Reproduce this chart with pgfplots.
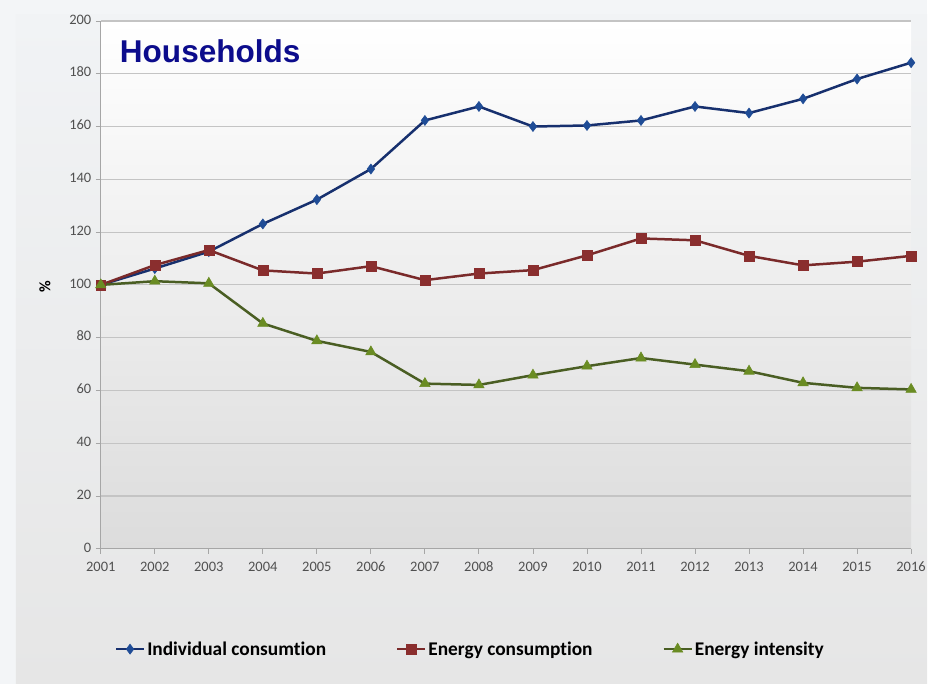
\documentclass[border=0pt]{standalone}
\usepackage{fontspec}
\setmainfont{Carlito}[Ligatures=NoCommon]
\newfontfamily\arialfont{Liberation Sans}
\usepackage{pgfplots}
\pgfplotsset{compat=1.18}
\definecolor{bgouter}{HTML}{F3F5F7}
\definecolor{bgtop}{HTML}{F1F3F5}
\definecolor{bgbot}{HTML}{E6E6E6}
\definecolor{plotbot}{HTML}{DCDCDC}
\definecolor{titleblue}{HTML}{0C0C8C}
\definecolor{blueline}{HTML}{17306E}
\definecolor{bluemark}{HTML}{1F4C96}
\definecolor{redline}{HTML}{7A2A2A}
\definecolor{redmark}{HTML}{8A2E2E}
\definecolor{greenline}{HTML}{4A5E23}
\definecolor{greenmark}{HTML}{6A8C23}
\definecolor{ticktext}{HTML}{505050}
\definecolor{gridc}{HTML}{C4C4C4}
\begin{document}
\begin{tikzpicture}[x=1pt,y=1pt]
\fill[bgouter] (0,0) rectangle (929,685);
\shade[top color=bgtop, bottom color=bgbot] (16,0) rectangle (929,670);
\begin{axis}[
  at={(101pt,135pt)}, anchor=south west,
  scale only axis, width=812pt, height=529pt,
  xmin=2001, xmax=2016, ymin=0, ymax=200,
  xtick={2001,2002,...,2016}, ytick={0,20,...,200},
  /pgf/number format/1000 sep={},
  /pgf/number format/assume math mode=true,
  typeset ticklabels with strut,
  axis lines*=left,
  axis line style={draw=gray!70, line width=0.8pt, -},
  tick style={draw=gray!70, line width=0.8pt},
  tick align=outside, major tick length=5pt,
  ymajorgrids, grid style={draw=gridc, line width=1.2pt},
  axis background/.style={shade, top color=white, bottom color=plotbot},
  ticklabel style={font=\fontsize{14.5}{16}\selectfont, text=ticktext},
  xticklabel style={yshift=-3pt},
  yticklabel style={xshift=-1pt},
  ylabel={\textbf{\%}},
  ylabel style={at={(axis description cs:-0.069,0.497)}, anchor=center, font=\fontsize{16}{17}\selectfont, rotate=0},
  clip=false,
  legend columns=3,
  legend cell align=left,
  legend style={draw=none, fill=none, at={(axis description cs:0.456,-0.19)}, anchor=center,
    font=\bfseries\fontsize{19.4}{21}\selectfont,
    /tikz/every even column/.append style={column sep=68pt}},
  legend image code/.code={\draw[mark repeat=2,mark phase=2] plot coordinates {(0pt,0pt) (14pt,0pt) (28pt,0pt)};},
]
\addplot[blueline, line width=2.5pt, mark=diamond*, mark size=5pt, mark options={fill=bluemark, draw=bluemark, line width=0.6pt}]
 coordinates {(2001,100) (2002,106.2) (2003,112.6) (2004,123.1) (2005,132.3) (2006,143.9) (2007,162.3) (2008,167.6) (2009,160.0) (2010,160.4) (2011,162.3) (2012,167.6) (2013,165.1) (2014,170.5) (2015,178.0) (2016,184.2)};
\addlegendentry{Individual consumtion}
\addplot[redline, line width=2.5pt, mark=square*, mark size=5pt, mark options={fill=redmark, draw=redmark, line width=0.6pt}]
 coordinates {(2001,100) (2002,107.5) (2003,113.2) (2004,105.5) (2005,104.3) (2006,107.1) (2007,101.8) (2008,104.3) (2009,105.6) (2010,111.2) (2011,117.6) (2012,116.9) (2013,111.0) (2014,107.4) (2015,108.8) (2016,111.0)};
\addlegendentry{Energy consumption}
\addplot[greenline, line width=2.5pt, mark=triangle*, mark size=6pt, mark options={fill=greenmark, draw=greenmark, line width=0.6pt}]
 coordinates {(2001,100) (2002,101.4) (2003,100.6) (2004,85.4) (2005,78.8) (2006,74.6) (2007,62.6) (2008,62.1) (2009,65.8) (2010,69.2) (2011,72.3) (2012,69.8) (2013,67.3) (2014,62.9) (2015,61.0) (2016,60.4)};
\addlegendentry{Energy intensity}
\node[anchor=west, inner sep=0pt, font=\arialfont\bfseries\fontsize{31.6}{34}\selectfont, text=titleblue] at (axis description cs:0.0234,0.943) {Households};
\end{axis}
\end{tikzpicture}
\end{document}
